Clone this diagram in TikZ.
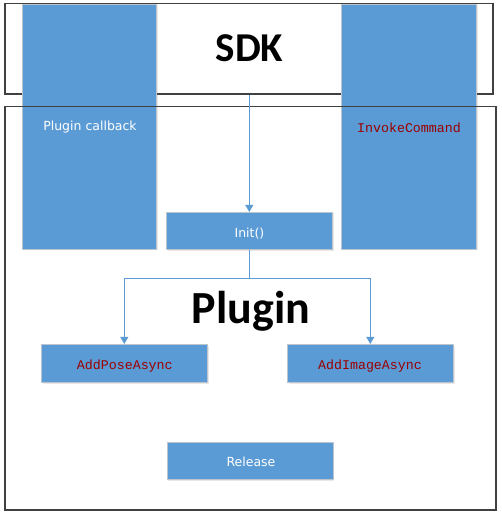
\documentclass[tikz,border=0pt]{standalone}
\usepackage{fontspec}
\setmainfont{Carlito}
\newfontfamily\labelsans{DejaVu Sans}
\newfontfamily\codefont{Liberation Mono}
\usetikzlibrary{arrows.meta,shadows}
\definecolor{boxblue}{HTML}{5B9BD5}
\definecolor{boxedge}{HTML}{BCC4CE}
\definecolor{frameline}{HTML}{404040}
\definecolor{codered}{HTML}{9A0000}
\tikzset{
  frame/.style={draw=frameline, line width=1.1pt, fill=none, inner sep=0pt},
  bluebox/.style={draw=boxedge, line width=0.8pt, fill=boxblue, inner sep=0pt,
    drop shadow={opacity=0.18, shadow xshift=1.2pt, shadow yshift=-1.2pt}},
  wlabel/.style={text=white, font=\labelsans\fontsize{12.5}{14}\selectfont, inner sep=0pt, anchor=base},
  clabel/.style={text=codered, font=\codefont\fontsize{13.3}{15}\selectfont, inner sep=0pt, anchor=base},
  title/.style={font=\bfseries, inner sep=0pt, anchor=base},
  conn/.style={draw=boxblue, line width=0.9pt},
  connarrow/.style={conn, -{Triangle[length=7pt,width=8pt]}}
}
\begin{document}
\begin{tikzpicture}[x=1pt,y=-1pt]
\useasboundingbox[fill=white] (0,0) rectangle (501,518);
% SDK frame (behind the tall boxes)
\node[frame, minimum width=488pt, minimum height=90.7pt] (sdkbox) at (249,48.7) {};
% tall blue boxes
\node[bluebox, minimum width=134pt, minimum height=245pt] (cb) at (89.7,126.5) {};
\node[bluebox, minimum width=135pt, minimum height=245pt] (ic) at (409.2,126.5) {};
% Plugin frame (over the tall boxes)
\node[frame, minimum width=491pt, minimum height=403.3pt] (plugbox) at (250.5,308.3) {};
% titles
\node[title, font=\bfseries\fontsize{41}{44}\selectfont] (sdktitle) at (249.5,62) {SDK};
\node[title, font=\bfseries\fontsize{46}{50}\selectfont] (plugtitle) at (251,323) {Plugin};
% labels in tall boxes
\node[wlabel] (cbl) at (90,131) {Plugin callback};
\node[clabel] (icl) at (409,133) {InvokeCommand};
% function boxes
\node[bluebox, minimum width=166pt, minimum height=37pt] (init) at (249.3,230.8) {};
\node[wlabel] (initl) at (249.5,237) {Init()};
\node[bluebox, minimum width=166pt, minimum height=38pt] (pose) at (124.3,363.3) {};
\node[clabel] (posel) at (124.8,369) {AddPoseAsync};
\node[bluebox, minimum width=166pt, minimum height=38pt] (image) at (370.3,363.3) {};
\node[clabel] (imagel) at (370,369) {AddImageAsync};
\node[bluebox, minimum width=166pt, minimum height=37pt] (release) at (250.2,461.3) {};
\node[wlabel] (releasel) at (251,466) {Release};
% connectors
\draw[connarrow] (sdkbox.south -| init.north) -- (init.north);
\coordinate (fork) at (init.south |- 0,278.3);
\draw[conn] (init.south) -- (fork);
\draw[connarrow] (fork) -| (pose.north);
\draw[connarrow] (fork) -| (image.north);
\end{tikzpicture}
\end{document}
